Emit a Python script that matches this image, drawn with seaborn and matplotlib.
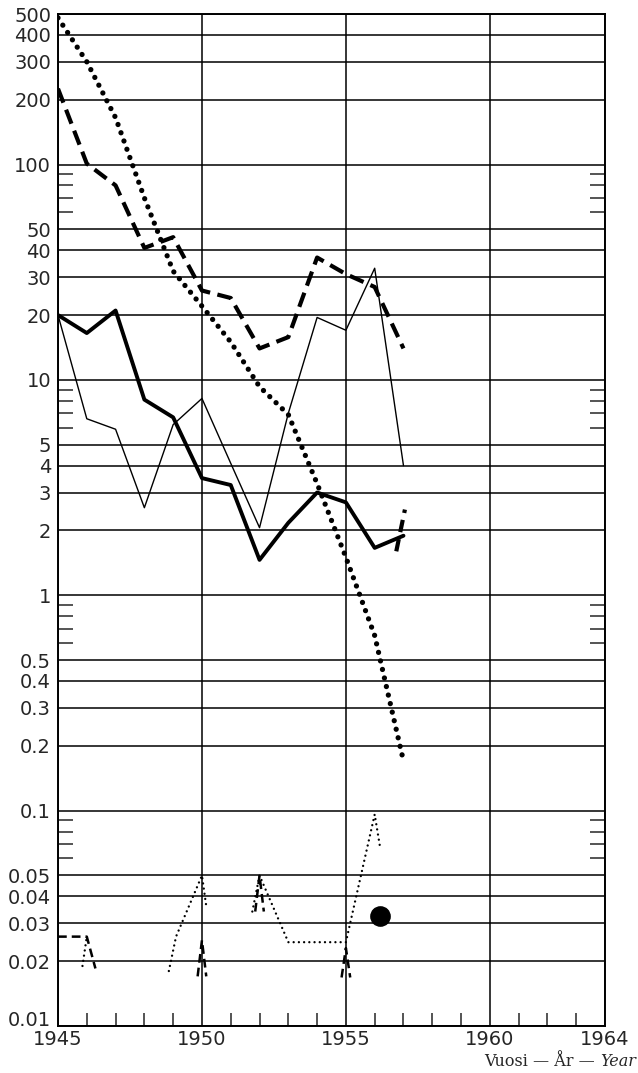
import numpy as np
import pandas as pd
import matplotlib
matplotlib.use("Agg")
import matplotlib.pyplot as plt
import seaborn as sns
from matplotlib.ticker import FixedLocator, FixedFormatter, NullFormatter

# main yearly series
years = [1945, 1946, 1947, 1948, 1949, 1950, 1951, 1952, 1953, 1954, 1955, 1956, 1957]
dotted_vals = [480, 300, 165, 70, 32, 22, 15, 9.3, 6.9, 3.3, 1.5, 0.65, 0.17]
dashed_vals = [225, 101, 80, 41, 46, 26, 24, 14, 15.8, 37, 31, 27, 14]
heavy_vals = [20, 16.5, 21, 8.1, 6.7, 3.5, 3.25, 1.46, 2.17, 3.0, 2.7, 1.66, 1.89]
thin_vals = [20, 6.6, 5.9, 2.55, 6.2, 8.2, 4.1, 2.06, 7.0, 19.5, 17, 33, 4.0]

# short heavy dashed stub at 1957
stub_x = [1956.75, 1957.05]
stub_y = [1.6, 2.5]

# small values near the bottom, drawn as separate pieces
low_dot_seg = [1, 1, 2, 2, 2, 2, 3, 3, 3, 3, 3, 3]
low_dot_x = [1945.85, 1946.0, 1948.85, 1949.1, 1950.0, 1950.15,
             1951.75, 1952.0, 1953.0, 1955.0, 1956.0, 1956.2]
low_dot_y = [0.019, 0.026, 0.018, 0.026, 0.05, 0.036,
             0.034, 0.05, 0.0245, 0.0245, 0.096, 0.066]

low_dash_seg = [1, 1, 1, 2, 2, 2, 3, 3, 3, 4, 4, 4]
low_dash_x = [1945.0, 1946.0, 1946.3, 1949.85, 1950.0, 1950.15,
              1951.85, 1952.0, 1952.15, 1954.85, 1955.0, 1955.15]
low_dash_y = [0.026, 0.026, 0.0185, 0.017, 0.025, 0.017,
              0.034, 0.05, 0.034, 0.0168, 0.023, 0.0168]

big_dot_x = [1956.2]
big_dot_y = [0.0325]

grid_vals = [0.01, 0.02, 0.03, 0.04, 0.05, 0.1, 0.2, 0.3, 0.4, 0.5,
             1, 2, 3, 4, 5, 10, 20, 30, 40, 50, 100, 200, 300, 400, 500]
grid_labels = ["0.01", "0.02", "0.03", "0.04", "0.05", "0.1", "0.2", "0.3", "0.4", "0.5",
               "1", "2", "3", "4", "5", "10", "20", "30", "40", "50",
               "100", "200", "300", "400", "500"]
minor_y = [m * 10.0 ** k for k in range(-2, 2) for m in (6, 7, 8, 9)]
x_major = [1945, 1950, 1955, 1960, 1964]
x_minor = [y for y in range(1946, 1964) if y not in x_major]

sns.set_style("white")
plt.rcParams['font.family'] = ['DejaVu Sans']

fig, ax = plt.subplots(figsize=(6.38, 10.73), dpi=100)
fig.subplots_adjust(left=58/638, right=605/638, top=1-14/1073, bottom=1-1026/1073)
ax.set_yscale("log")

main = pd.DataFrame({"year": years, "dotted": dotted_vals, "dashed": dashed_vals,
                     "heavy": heavy_vals, "thin": thin_vals})

sns.lineplot(data=main, x="year", y="thin", ax=ax, color="black", lw=1.0)
sns.lineplot(data=main, x="year", y="heavy", ax=ax, color="black", lw=2.8)
sns.lineplot(data=main, x="year", y="dashed", ax=ax, color="black", lw=3.0,
             linestyle=(0, (3.6, 1.8)))
sns.lineplot(data=main, x="year", y="dotted", ax=ax, color="black", lw=3.8,
             linestyle=(0, (0.01, 1.65)), dash_capstyle="round")
sns.lineplot(x=stub_x, y=stub_y, ax=ax, color="black", lw=3.0,
             linestyle=(0, (3.0, 1.7)))

low_dot = pd.DataFrame({"x": low_dot_x, "y": low_dot_y, "seg": low_dot_seg})
low_dash = pd.DataFrame({"x": low_dash_x, "y": low_dash_y, "seg": low_dash_seg})
sns.lineplot(data=low_dot, x="x", y="y", units="seg", estimator=None, sort=False, ax=ax,
             color="black", lw=1.7, linestyle=(0, (0.01, 2.2)), dash_capstyle="round")
sns.lineplot(data=low_dash, x="x", y="y", units="seg", estimator=None, sort=False, ax=ax,
             color="black", lw=1.8, linestyle=(0, (3.5, 2.0)))
sns.scatterplot(x=big_dot_x, y=big_dot_y, ax=ax, color="black", s=190, marker="o",
                edgecolor="black", zorder=5)

ax.set_xlim(1945, 1964)
ax.set_ylim(0.01, 500)

ax.yaxis.set_major_locator(FixedLocator(grid_vals))
ax.yaxis.set_major_formatter(FixedFormatter(grid_labels))
ax.yaxis.set_minor_locator(FixedLocator(minor_y))
ax.yaxis.set_minor_formatter(NullFormatter())
ax.xaxis.set_major_locator(FixedLocator(x_major))
ax.xaxis.set_major_formatter(FixedFormatter([str(v) for v in x_major]))
ax.xaxis.set_minor_locator(FixedLocator(x_minor))

ax.grid(True, which="major", color="black", lw=1.1)
ax.tick_params(axis="y", which="major", length=0, pad=5, labelsize=14)
ax.tick_params(axis="y", which="minor", direction="in", length=11, width=1.1,
               left=True, right=True)
ax.tick_params(axis="x", which="major", length=0, pad=3, labelsize=14)
ax.tick_params(axis="x", which="minor", direction="in", length=9.5, width=1.1, bottom=True)
for s in ax.spines.values():
    s.set_color("black")
    s.set_linewidth(1.4)
ax.set_xlabel("")
ax.set_ylabel("")

# lift the 0.01 label a little so it clears the 1945 label
ax.yaxis.get_major_ticks()[0].label1.set_verticalalignment("baseline")

# axis caption, "Year" in italics
fig.canvas.draw()
t2 = fig.text(636/638, 1 - 1066/1073, "Year", ha="right", va="baseline",
              family="DejaVu Serif", style="italic", fontsize=11.5)
fig.canvas.draw()
bb = t2.get_window_extent()
fig.text(bb.x0 / fig.bbox.width, 1 - 1066/1073, "Vuosi \u2014 \u00c5r \u2014 ", ha="right",
         va="baseline", family="DejaVu Serif", fontsize=11.5)

fig.savefig("out.png", dpi=100)
